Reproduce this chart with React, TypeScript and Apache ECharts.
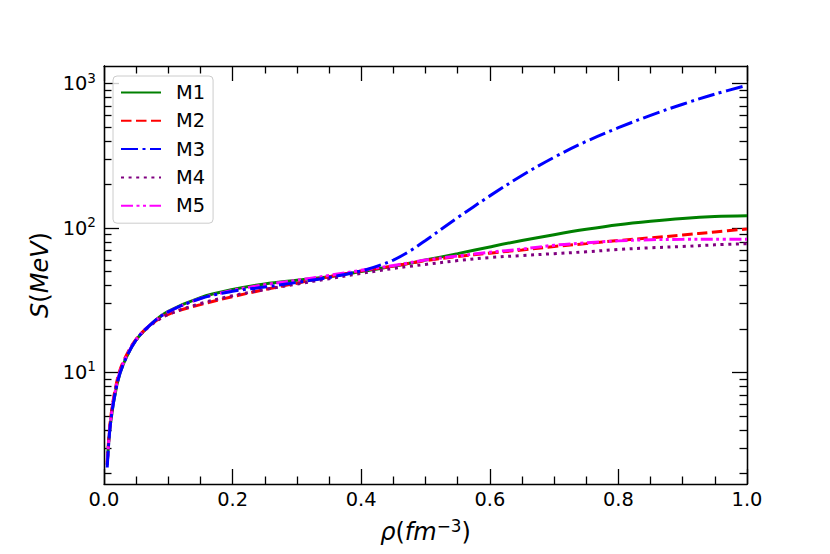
import React, { useEffect, useRef } from 'react';
import * as echarts from 'echarts';

const rho = [0.005, 0.01, 0.02, 0.03, 0.05, 0.075, 0.1, 0.15, 0.2, 0.25, 0.3, 0.35, 0.4, 0.425, 0.45, 0.475, 0.5, 0.55, 0.6, 0.65, 0.7, 0.75, 0.8, 0.85, 0.9, 0.95, 1.0];

const m1 = [2.3, 4.4, 8.2, 11.4, 16.8, 22, 26.5, 33, 37.5, 41, 43.5, 46, 50, 52, 54.5, 57, 60, 66.5, 74, 82, 90, 98, 105.5, 111.5, 116.5, 120, 121.5];
const m2 = [2.4, 4.7, 8.7, 11.9, 17, 21.8, 25.3, 29.5, 33.5, 37.5, 41.5, 46, 50.5, 52.5, 54.5, 57, 59.5, 63.5, 67, 70.5, 74.5, 78, 82, 85.5, 89.5, 94, 98.5];
const m3 = [2.2, 4.4, 8.2, 11.4, 16.8, 22, 26.3, 32.5, 36.5, 39, 42, 45.5, 50.5, 54.5, 60, 69, 82, 118, 167, 231, 309, 398, 495, 603, 720, 846, 972];
const m4 = [2.3, 4.5, 8.4, 11.6, 16.8, 21.6, 25.2, 30, 34, 37.5, 41, 44.5, 48.5, 50.5, 52.5, 54.3, 56, 59.5, 62.5, 64.5, 66.5, 68.5, 71, 73, 74.5, 76.5, 78];
const m5 = [2.3, 4.5, 8.4, 11.6, 16.9, 22, 26.3, 32.5, 37, 40.5, 43.5, 47, 51, 53, 55, 57.5, 60, 64, 68, 71.5, 76, 79, 81.5, 83, 83.5, 83.8, 83.6];

const seriesNames = ['M1', 'M2', 'M3', 'M4', 'M5'];
const seriesValues = [m1, m2, m3, m4, m5];

const xMajorTicks = [0, 0.2, 0.4, 0.6, 0.8, 1.0];
const yMajorTicks = [10, 100, 1000];
const yMinorTicks = [2, 3, 4, 5, 6, 7, 8, 9, 20, 30, 40, 50, 60, 70, 80, 90, 200, 300, 400, 500, 600, 700, 800, 900];

const colors = ['#008000', '#ff0000', '#0000ff', '#800080', '#ff00ff'];
const dashes: any[] = ['solid', [10.5, 4.5], [17, 4.5, 3, 4.5], [3, 4.6], [12, 3.5, 3, 3.5, 3, 3.5]];

const FONT = 'DejaVu Sans';

export default function App() {
  const ref = useRef<HTMLDivElement>(null);
  useEffect(() => {
    if (!ref.current) return;
    const chart = echarts.init(ref.current, null, { renderer: 'svg', width: 830, height: 554 });
    const lineCol = { color: '#000', width: 1.3 };
    const yBase = {
      type: 'log',
      logBase: 10,
      min: 1.69,
      max: 1324,
      splitLine: { show: false },
      minorSplitLine: { show: false },
      axisLine: { show: true, onZero: false, lineStyle: lineCol },
    };
    const yAxes = [
      {
        ...yBase,
        position: 'left',
        axisTick: { show: true, inside: true, length: 15, customValues: yMajorTicks, lineStyle: lineCol },
        axisLabel: {
          show: true,
          customValues: yMajorTicks,
          margin: 8,
          formatter: (v: number) => `{b|10}{s|${Math.round(Math.log10(v))}}`,
          rich: {
            b: { fontSize: 19.4, fontFamily: FONT, color: '#000', lineHeight: 26 },
            s: { fontSize: 13.6, fontFamily: FONT, color: '#000', lineHeight: 13, verticalAlign: 'top' },
          },
        },
        name: '{i|S}{r|(}{i|MeV}{r|)}',
        nameLocation: 'middle',
        nameGap: 51,
        nameRotate: 90,
        nameTextStyle: {
          rich: {
            i: { fontSize: 24, fontFamily: FONT, fontStyle: 'italic', color: '#000', lineHeight: 26 },
            r: { fontSize: 24, fontFamily: FONT, color: '#000', lineHeight: 26 },
          },
        },
      },
      {
        ...yBase,
        position: 'left',
        axisTick: { show: true, inside: true, length: 7.5, customValues: yMinorTicks, lineStyle: lineCol },
        axisLabel: { show: false },
      },
      {
        ...yBase,
        position: 'right',
        axisTick: { show: true, inside: true, length: 15, customValues: yMajorTicks, lineStyle: lineCol },
        axisLabel: { show: false },
      },
      {
        ...yBase,
        position: 'right',
        axisTick: { show: true, inside: true, length: 7.5, customValues: yMinorTicks, lineStyle: lineCol },
        axisLabel: { show: false },
      },
    ];
    const xBase = {
      type: 'value',
      min: 0,
      max: 1,
      interval: 0.2,
      splitLine: { show: false },
      minorSplitLine: { show: false },
      axisLine: { show: true, onZero: false, lineStyle: lineCol },
      axisTick: { show: true, inside: true, length: 15, lineStyle: lineCol },
      minorTick: { show: true, splitNumber: 4, length: 7.5, lineStyle: lineCol },
    };
    const xAxes = [
      {
        ...xBase,
        position: 'bottom',
        axisLabel: {
          show: true,
          customValues: xMajorTicks,
          margin: 6,
          fontSize: 19.4,
          fontFamily: FONT,
          color: '#000',
          formatter: (v: number) => v.toFixed(1),
        },
        name: '{i|ρ}{r|(}{i|fm}{s|−3}{r|)}',
        nameLocation: 'middle',
        nameGap: 33,
        nameTextStyle: {
          rich: {
            i: { fontSize: 24, fontFamily: FONT, fontStyle: 'italic', color: '#000', lineHeight: 30 },
            r: { fontSize: 24, fontFamily: FONT, color: '#000', lineHeight: 30 },
            s: { fontSize: 16.8, fontFamily: FONT, color: '#000', lineHeight: 15, verticalAlign: 'top' },
          },
        },
      },
      {
        ...xBase,
        position: 'top',
        axisLabel: { show: false },
      },
    ];
    const option: any = {
      animation: false,
      backgroundColor: '#fff',
      grid: { left: 104, right: 83, top: 66, bottom: 70, containLabel: false },
      xAxis: xAxes,
      yAxis: yAxes,
      legend: {
        show: true,
        orient: 'vertical',
        left: 113,
        top: 76,
        padding: [7, 8, 8, 7],
        itemWidth: 40,
        itemHeight: 19,
        itemGap: 9.3,
        backgroundColor: 'rgba(255,255,255,0.8)',
        borderColor: '#cccccc',
        borderWidth: 1,
        borderRadius: 4,
        itemStyle: { color: 'transparent', borderColor: 'transparent', borderWidth: 0 },
        data: seriesNames,
        textStyle: { fontSize: 19.4, fontFamily: FONT, color: '#000', padding: [0, 0, 0, 10] },
      },
      series: seriesNames.map((name, k) => ({
        name,
        type: 'line',
        xAxisIndex: 0,
        yAxisIndex: 0,
        symbol: 'none',
        smooth: 0.35,
        clip: true,
        z: k === 2 ? 3 : 2,
        lineStyle: { color: colors[k], width: 3, type: dashes[k], cap: 'butt' },
        itemStyle: { color: colors[k] },
        data: rho.map((x, i) => [x, seriesValues[k][i]]),
      })),
    };
    chart.setOption(option);
    return () => chart.dispose();
  }, []);
  return <div ref={ref} style={{ position: 'fixed', left: 0, top: 0, width: 830, height: 554 }} />;
}
